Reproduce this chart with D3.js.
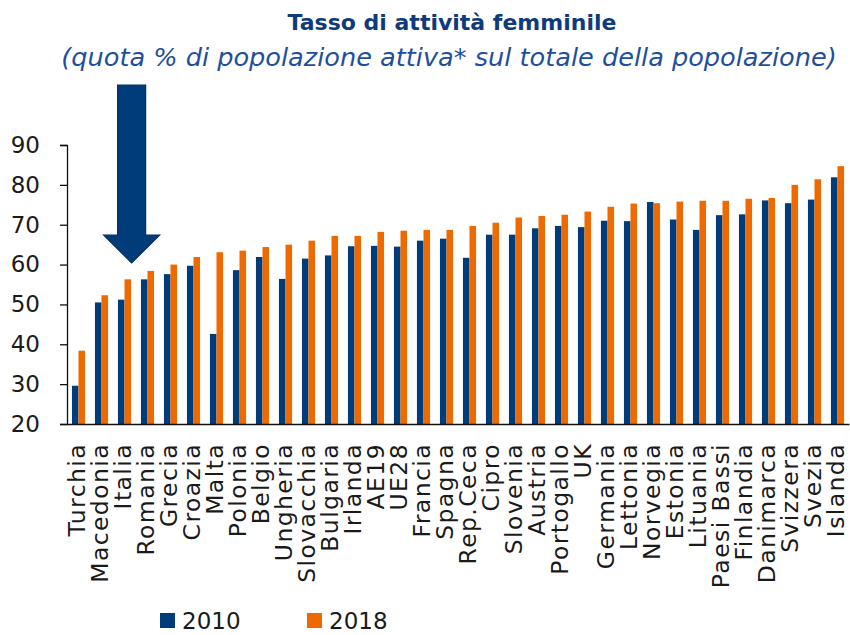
<!DOCTYPE html>
<html>
<head>
<meta charset="utf-8">
<title>Tasso di attività femminile</title>
<script src="https://cdn.jsdelivr.net/npm/d3@7"></script>
<style>
    body { margin: 0; background: #fff; }
    svg { display: block; font-family: "DejaVu Sans", sans-serif; }
</style>
</head>
<body>
<svg id="chart" width="850" height="635"></svg>
<script>
const categories = ["Turchia", "Macedonia", "Italia", "Romania", "Grecia", "Croazia", "Malta", "Polonia",
    "Belgio", "Ungheria", "Slovacchia", "Bulgaria", "Irlanda", "AE19", "UE28", "Francia", "Spagna",
    "Rep.Ceca", "Cipro", "Slovenia", "Austria", "Portogallo", "UK", "Germania", "Lettonia", "Norvegia",
    "Estonia", "Lituania", "Paesi Bassi", "Finlandia", "Danimarca", "Svizzera", "Svezia", "Islanda"];
const values2010 = [29.6, 50.5, 51.2, 56.3, 57.6, 59.7, 42.6, 58.6, 61.9, 56.4, 61.5, 62.3, 64.6, 64.7,
    64.5, 66.0, 66.5, 61.7, 67.5, 67.5, 69.1, 69.7, 69.4, 71.0, 70.9, 75.7, 71.3, 68.7, 72.4, 72.6,
    76.1, 75.4, 76.3, 81.9];
const values2018 = [38.4, 52.3, 56.3, 58.4, 60.0, 61.9, 63.1, 63.5, 64.4, 65.0, 66.0, 67.2, 67.2, 68.2,
    68.5, 68.7, 68.7, 69.7, 70.5, 71.8, 72.2, 72.5, 73.3, 74.5, 75.3, 75.4, 75.8, 76.0, 76.0, 76.5,
    76.7, 80.0, 81.4, 84.7];
const years = ["2010", "2018"];
const yTicks = [20, 30, 40, 50, 60, 70, 80, 90];
const highlighted = "Italia";

const colors = { "2010": "#003b7a", "2018": "#ee6a00" };

const svg = d3.select("#chart");

const rows = categories.map((c, i) => ({ name: c, "2010": values2010[i], "2018": values2018[i] }));

const x0 = d3.scaleBand().domain(categories).range([67, 849]).padding(0);
const bw = x0.bandwidth();
const x1 = d3.scaleBand().domain(years).range([bw * 0.215, bw * 0.785]).padding(0);
const y = d3.scaleLinear().domain([20, 90]).range([424, 145]);

// titles
svg.append("text")
    .attr("x", 452).attr("y", 30)
    .attr("text-anchor", "middle")
    .attr("font-size", 22).attr("font-weight", "bold")
    .attr("fill", "#0f3b7c")
    .text("Tasso di attività femminile");

svg.append("text")
    .attr("x", 449).attr("y", 66)
    .attr("text-anchor", "middle")
    .attr("font-size", 25.6).attr("font-style", "italic")
    .attr("fill", "#1f4f9c")
    .text("(quota % di popolazione attiva* sul totale della popolazione)");

// bars
const groups = svg.append("g").selectAll("g")
    .data(rows)
    .join("g")
    .attr("transform", d => `translate(${x0(d.name)},0)`);

groups.selectAll("rect")
    .data(d => years.map(k => ({ key: k, value: d[k] })))
    .join("rect")
    .attr("x", d => x1(d.key))
    .attr("y", d => y(d.value))
    .attr("width", x1.bandwidth())
    .attr("height", d => y(20) - y(d.value))
    .attr("fill", d => colors[d.key]);

// y axis
const yAxis = svg.append("g")
    .attr("transform", "translate(67,0)")
    .call(d3.axisLeft(y).tickValues(yTicks).tickSize(7).tickPadding(20));
yAxis.select(".domain").attr("stroke", "#111").attr("stroke-width", 1.3);
yAxis.selectAll(".tick line").attr("stroke", "#111").attr("stroke-width", 1.3);
yAxis.selectAll(".tick text")
    .attr("font-size", 23).attr("fill", "#1a1a1a")
    .attr("font-family", "DejaVu Sans, sans-serif");

// x axis
const xAxis = svg.append("g")
    .attr("transform", "translate(0,424)")
    .call(d3.axisBottom(x0).tickSize(0).tickPadding(0));
xAxis.select(".domain").attr("stroke", "#111").attr("stroke-width", 1.5);
xAxis.selectAll(".tick text")
    .attr("font-size", 23.5).attr("fill", "#1a1a1a")
    .attr("letter-spacing", 1.4)
    .attr("font-family", "DejaVu Sans, sans-serif")
    .attr("text-anchor", "end")
    .attr("dy", "0.27em")
    .attr("transform", "translate(0,19) rotate(-90)");

// arrow pointing at Italia
const ax = x0(highlighted) + bw * 0.81;
const arrow = d3.path();
arrow.moveTo(ax - 14, 85);
arrow.lineTo(ax + 14, 85);
arrow.lineTo(ax + 14, 235);
arrow.lineTo(ax + 28, 235);
arrow.lineTo(ax, 263);
arrow.lineTo(ax - 28, 235);
arrow.lineTo(ax - 14, 235);
arrow.closePath();
svg.append("path")
    .attr("d", arrow.toString())
    .attr("fill", "#003b7a")
    .attr("stroke", "#0a2f5c")
    .attr("stroke-width", 1.2);

// legend
const legend = svg.append("g").selectAll("g")
    .data(years)
    .join("g")
    .attr("transform", (d, i) => `translate(${160 + i * 147},613)`);
legend.append("rect")
    .attr("width", 15).attr("height", 15)
    .attr("fill", d => colors[d]);
legend.append("text")
    .attr("x", 22).attr("y", 16)
    .attr("font-size", 23).attr("fill", "#1a1a1a")
    .text(d => d);
</script>
</body>
</html>
